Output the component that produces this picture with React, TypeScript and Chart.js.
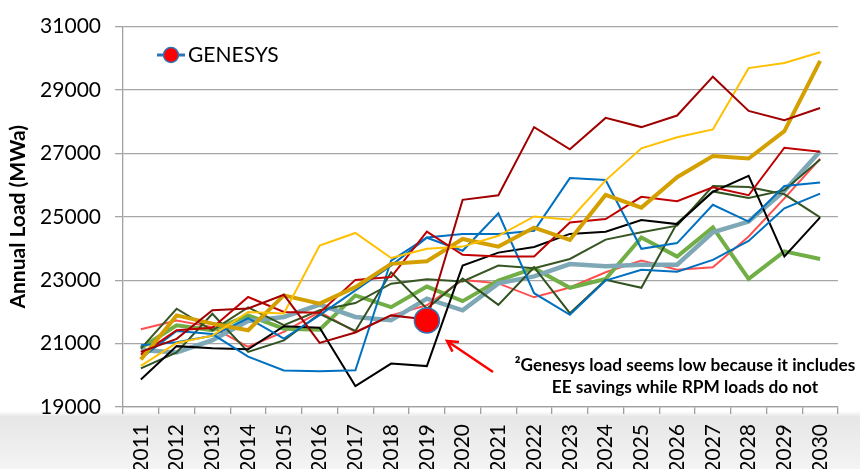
import React, { useEffect, useRef } from 'react';
import { Chart, registerables } from 'chart.js';
Chart.register(...registerables);

const years = ['2011','2012','2013','2014','2015','2016','2017','2018','2019','2020','2021','2022','2023','2024','2025','2026','2027','2028','2029','2030'];
const yTickValues = [19000, 21000, 23000, 25000, 27000, 29000, 31000];

const darkRed    = [20740, 21150, 22050, 22110, 22540, 21020, 21350, 21890, 21760, 25535, 25680, 27830, 27130, 28120, 27830, 28195, 29420, 28340, 28050, 28430];
const red        = [20650, 21420, 21500, 22470, 22000, 21970, 23010, 23100, 24530, 23800, 23750, 23750, 24820, 24930, 25630, 25490, 25930, 25680, 27180, 27050];
const yellow     = [20300, 21020, 21250, 22000, 21950, 24090, 24490, 23700, 23990, 24060, 24400, 25010, 24910, 26150, 27160, 27510, 27755, 29690, 29850, 30190];
const gold       = [20500, 21890, 21630, 21420, 22520, 22260, 22780, 23515, 23600, 24300, 24060, 24660, 24270, 25690, 25290, 26250, 26920, 26840, 27700, 29920];
const blueA      = [20540, 21400, 21300, 20590, 20150, 20130, 20160, 23620, 24350, 24460, 24460, 24560, 26220, 26160, 23990, 24170, 25380, 24850, 25970, 26080];
const blueB      = [20950, 21040, 21250, 21800, 21160, 21900, 22680, 23460, 24340, 23930, 25110, 22590, 21910, 22990, 23330, 23270, 23640, 24240, 25270, 25730];
const black      = [19870, 20920, 20850, 20820, 21550, 21500, 19660, 20370, 20290, 23460, 23870, 24050, 24460, 24530, 24900, 24770, 25790, 26290, 23750, 24980];
const darkGreenA = [20840, 22100, 21420, 22140, 21580, 22050, 22280, 22890, 23030, 22960, 23460, 23380, 23670, 24280, 24510, 24720, 25970, 25940, 25710, 24980];
const darkGreenB = [20220, 20720, 21940, 20740, 21100, 21940, 21400, 23250, 22100, 23050, 22220, 23410, 21960, 23010, 22760, 24800, 25800, 25590, 25840, 26810];
const lightGreen = [20860, 21580, 21420, 21890, 21470, 21440, 22520, 22150, 22800, 22340, 22990, 23380, 22760, 23040, 24350, 23745, 24665, 23045, 23910, 23670];
const grayBlue   = [20800, 20720, 21110, 21710, 21840, 22230, 21840, 21740, 22420, 22050, 22900, 23120, 23510, 23440, 23490, 23490, 24510, 24850, 25820, 27070];
const salmon     = [21450, 21730, 21520, 20900, 21370, 22000, 21370, 21890, 22210, 23010, 22900, 22460, 22770, 23250, 23620, 23330, 23410, 24380, 25580, 26830];
const genesys    = [null, null, null, null, null, null, null, null, 21730, null, null, null, null, null, null, null, null, null, null, null];

const legendLabel = 'GENESYS';
const yTitle = 'Annual Load (MWa)';
const noteLines = ['\u00B2Genesys load seems low because it includes', 'EE savings while RPM loads do not'];

const FONT = "Lato, 'Open Sans', sans-serif";

const decor = {
  id: 'decor',
  beforeDraw(chart: any) {
    const { ctx, width, height } = chart;
    ctx.save();
    ctx.fillStyle = '#ffffff';
    ctx.fillRect(0, 0, width, height);
    const g = ctx.createLinearGradient(0, 411, 0, height);
    g.addColorStop(0, 'rgba(232,232,232,0)');
    g.addColorStop(0.1, '#e6e6e6');
    g.addColorStop(1, '#f4f4f4');
    ctx.fillStyle = g;
    ctx.fillRect(0, 411, width, height - 411);
    ctx.restore();
  },
  afterDraw(chart: any) {
    const { ctx } = chart;
    ctx.save();
    // legend
    ctx.strokeStyle = '#2E75B6';
    ctx.lineWidth = 3;
    ctx.beginPath();
    ctx.moveTo(157, 55);
    ctx.lineTo(185, 55);
    ctx.stroke();
    ctx.beginPath();
    ctx.arc(171, 55, 7.5, 0, Math.PI * 2);
    ctx.fillStyle = '#FF0000';
    ctx.fill();
    ctx.lineWidth = 1.5;
    ctx.stroke();
    ctx.fillStyle = '#000';
    ctx.font = `21px ${FONT}`;
    ctx.textBaseline = 'middle';
    ctx.textAlign = 'left';
    ctx.fillText(legendLabel, 188, 55);

    // annotation
    let size = 19;
    ctx.font = `bold ${size}px ${FONT}`;
    while (ctx.measureText(noteLines[0]).width > 344 && size > 10) {
      size -= 0.25;
      ctx.font = `bold ${size}px ${FONT}`;
    }
    ctx.textAlign = 'center';
    ctx.textBaseline = 'alphabetic';
    ctx.fillStyle = '#000';
    ctx.fillText(noteLines[0], 685, 370.5);
    ctx.fillText(noteLines[1], 685, 393);

    // arrow
    const x1 = 493, y1 = 372, x2 = 447, y2 = 341;
    ctx.strokeStyle = '#FF0000';
    ctx.lineWidth = 2.5;
    ctx.beginPath();
    ctx.moveTo(x1, y1);
    ctx.lineTo(x2, y2);
    const ang = Math.atan2(y1 - y2, x1 - x2);
    const L = 12;
    ctx.moveTo(x2 + L * Math.cos(ang + 0.5), y2 + L * Math.sin(ang + 0.5));
    ctx.lineTo(x2, y2);
    ctx.lineTo(x2 + L * Math.cos(ang - 0.5), y2 + L * Math.sin(ang - 0.5));
    ctx.stroke();
    ctx.restore();
  },
};

function line(label: string, data: any[], color: string, width: number) {
  return {
    label,
    data,
    borderColor: color,
    backgroundColor: color,
    borderWidth: width,
    pointRadius: 0,
    tension: 0,
    fill: false,
    order: 1,
  };
}

export default function App() {
  const ref = useRef<HTMLCanvasElement | null>(null);
  useEffect(() => {
    if (!ref.current) return;
    const chart = new Chart(ref.current, {
      type: 'line',
      data: {
        labels: years,
        datasets: [
          {
            label: legendLabel,
            data: genesys,
            showLine: false,
            pointRadius: 12.5,
            pointBackgroundColor: '#FF0000',
            pointBorderColor: '#2E75B6',
            pointBorderWidth: 1.5,
            borderColor: '#2E75B6',
            backgroundColor: '#FF0000',
            order: 0,
          } as any,
          line('A', darkRed, '#A00000', 2),
          line('B', yellow, '#FFC000', 2),
          line('C', gold, '#D4A000', 4),
          line('D', red, '#C00000', 2),
          line('E', blueA, '#0070C0', 2),
          line('F', blueB, '#0070C0', 2),
          line('G', black, '#000000', 2),
          line('H', darkGreenA, '#375623', 2),
          line('I', darkGreenB, '#2F5220', 2),
          line('J', grayBlue, '#7FA8B7', 4.5),
          line('K', lightGreen, '#72AE46', 4),
          line('L', salmon, '#FF4F4F', 2),
        ],
      },
      options: {
        responsive: false,
        animation: false,
        layout: { padding: { top: 25, right: 22, left: 0, bottom: 0 } },
        plugins: { legend: { display: false }, tooltip: { enabled: false } },
        scales: {
          x: {
            type: 'category',
            offset: true,
            afterFit(scale: any) { scale.height = 62; },
            grid: { drawOnChartArea: false, drawTicks: true, tickLength: 7, offset: true, color: '#A0A0A0', lineWidth: 1.3 },
            border: { color: '#A0A0A0', width: 1.3 },
            ticks: { autoSkip: false, maxRotation: 90, minRotation: 90, padding: 10, color: '#000', font: { family: FONT, size: 21 } },
          },
          y: {
            min: 19000,
            max: 31000,
            afterFit(scale: any) { scale.width = 123; },
            afterBuildTicks(scale: any) { scale.ticks = yTickValues.map((v) => ({ value: v })); },
            grid: { color: '#A6A6A6', lineWidth: 1.3, tickLength: 8 },
            border: { color: '#A0A0A0', width: 1.3 },
            ticks: { padding: 14, color: '#000', font: { family: FONT, size: 21 }, callback: (v: any) => String(v) },
            title: { display: true, text: yTitle, color: '#000', font: { family: FONT, size: 21, weight: 'bold' }, padding: { top: 6, bottom: 0 } },
          },
        },
      },
      plugins: [decor],
    });
    return () => chart.destroy();
  }, []);
  return (
    <div style={{ position: 'absolute', left: 0, top: 0, width: 860, height: 469 }}>
      <canvas ref={ref} width={860} height={469} style={{ width: 860, height: 469, display: 'block' }} />
    </div>
  );
}
